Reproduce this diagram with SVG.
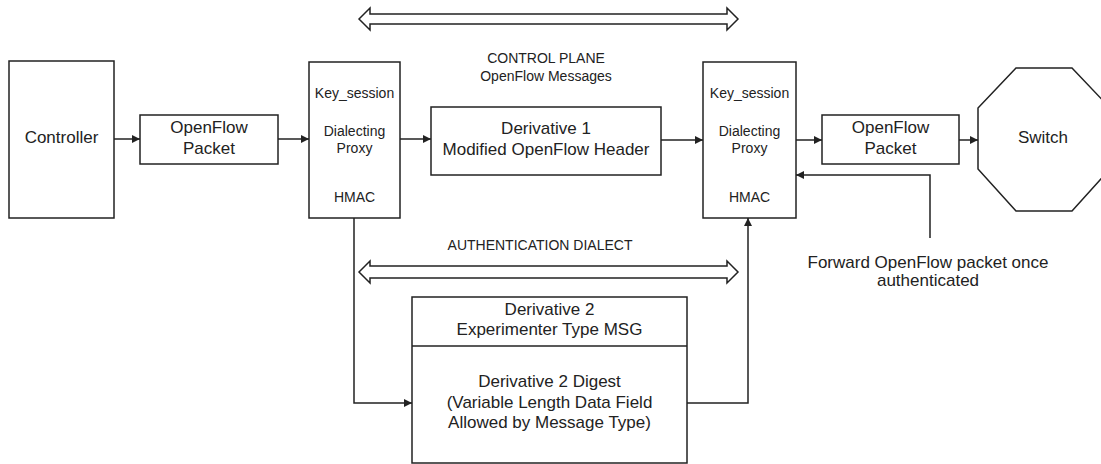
<svg xmlns="http://www.w3.org/2000/svg" width="1101" height="464" viewBox="0 0 1101 464">
<style>
.box{fill:#fff;stroke:#222;stroke-width:1.5}
.ln{fill:none;stroke:#222;stroke-width:1.5}
.dbl{fill:#fff;stroke:#222;stroke-width:1.5;stroke-linejoin:miter}
text{font-family:"Liberation Sans",Arial,sans-serif;fill:#222;text-anchor:middle}
.b{font-size:17px}
.s{font-size:14px}
</style>
<defs>
<marker id="ah" viewBox="0 0 10 10" refX="10" refY="5" markerWidth="10" markerHeight="8" markerUnits="userSpaceOnUse" orient="auto">
<path d="M0,0 L10,5 L0,10 z" fill="#222"/>
</marker>
</defs>
<rect width="1101" height="464" fill="#fff"/>

<g id="connectors">
<line class="ln" x1="114" y1="139" x2="140" y2="139" marker-end="url(#ah)"/>
<line class="ln" x1="278" y1="139" x2="309" y2="139" marker-end="url(#ah)"/>
<line class="ln" x1="400" y1="139" x2="431" y2="139" marker-end="url(#ah)"/>
<line class="ln" x1="661" y1="140" x2="703" y2="140" marker-end="url(#ah)"/>
<line class="ln" x1="796" y1="140" x2="822" y2="140" marker-end="url(#ah)"/>
<line class="ln" x1="959" y1="140" x2="978" y2="140" marker-end="url(#ah)"/>
<polyline class="ln" points="930,238 930,175 796,175" marker-end="url(#ah)"/>
<polyline class="ln" points="354,218 354,403 412,403" marker-end="url(#ah)"/>
<polyline class="ln" points="687,403 748,403 748,218" marker-end="url(#ah)"/>
<path class="dbl" d="M359,19 L370,8 L370,14 L727,14 L727,8 L738,19 L727,30 L727,24 L370,24 L370,30 Z"/>
<path class="dbl" d="M359,272 L370,261 L370,266 L727,266 L727,261 L738,272 L727,283 L727,278 L370,278 L370,283 Z"/>
</g>

<g id="controller">
<rect class="box" x="9" y="61" width="105" height="157"/>
<text class="b" x="61.5" y="143">Controller</text>
</g>

<g id="packet-left">
<rect class="box" x="140" y="115" width="138" height="49"/>
<text class="b" x="209" y="133">OpenFlow</text>
<text class="b" x="209" y="154">Packet</text>
</g>

<g id="proxy-left">
<rect class="box" x="309" y="62" width="91" height="156"/>
<text class="s" x="354.5" y="98">Key_session</text>
<text class="s" x="354.5" y="136">Dialecting</text>
<text class="s" x="354.5" y="153">Proxy</text>
<text class="s" x="354.5" y="202">HMAC</text>
</g>

<g id="control-plane-label">
<text class="s" x="546" y="63">CONTROL PLANE</text>
<text class="s" x="546" y="81">OpenFlow Messages</text>
</g>

<g id="derivative1">
<rect class="box" x="431" y="107" width="230" height="68"/>
<text class="b" x="546" y="134">Derivative 1</text>
<text class="b" x="546" y="155">Modified OpenFlow Header</text>
</g>

<g id="proxy-right">
<rect class="box" x="703" y="62" width="93" height="156"/>
<text class="s" x="749.5" y="98">Key_session</text>
<text class="s" x="749.5" y="136">Dialecting</text>
<text class="s" x="749.5" y="153">Proxy</text>
<text class="s" x="749.5" y="202">HMAC</text>
</g>

<g id="packet-right">
<rect class="box" x="822" y="115" width="137" height="49"/>
<text class="b" x="890.5" y="133">OpenFlow</text>
<text class="b" x="890.5" y="154">Packet</text>
</g>

<g id="switch">
<polygon class="box" points="1016,68 1072,68 1110,108 1110,169 1072,211 1016,211 978,169 978,108"/>
<text class="b" x="1043" y="143">Switch</text>
</g>

<g id="forward-label">
<text class="b" x="928" y="268">Forward OpenFlow packet once</text>
<text class="b" x="928" y="286">authenticated</text>
</g>

<g id="auth-label">
<text class="s" x="540" y="250">AUTHENTICATION DIALECT</text>
</g>

<g id="derivative2">
<rect class="box" x="412" y="297" width="275" height="166"/>
<line class="ln" x1="412" y1="346" x2="687" y2="346"/>
<text class="b" x="549.5" y="315">Derivative 2</text>
<text class="b" x="549.5" y="335">Experimenter Type MSG</text>
<text class="b" x="549.5" y="387">Derivative 2 Digest</text>
<text class="b" x="549.5" y="408">(Variable Length Data Field</text>
<text class="b" x="549.5" y="428">Allowed by Message Type)</text>
</g>
</svg>
